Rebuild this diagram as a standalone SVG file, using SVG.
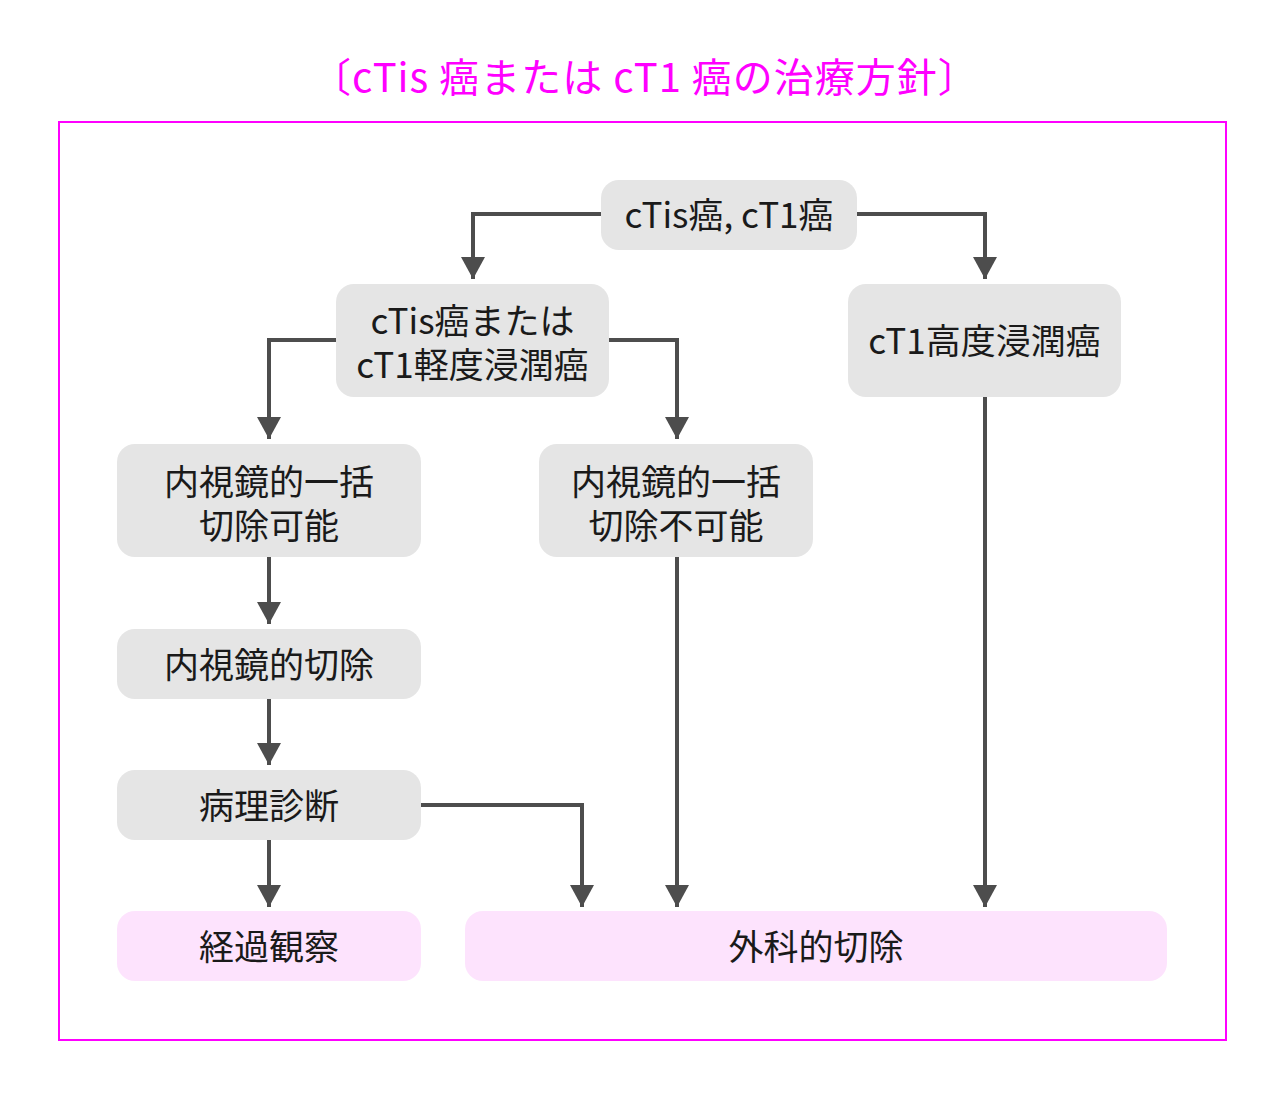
<svg xmlns="http://www.w3.org/2000/svg" width="1287" height="1098" viewBox="0 0 1287 1098">
<defs>
<style>
.n{fill:#e5e5e5}
.p{fill:#fde3fd}
.t{font-family:"Noto Sans CJK JP","Noto Sans",sans-serif;font-size:35px;fill:#1a1a1a;text-anchor:middle;dominant-baseline:central}
.c{fill:none;stroke:#4d4d4d;stroke-width:4}
.title{font-family:"Noto Sans CJK JP","Noto Sans",sans-serif;font-size:40px;letter-spacing:1px;fill:#ff00ff;text-anchor:middle;dominant-baseline:central}
</style>
<marker id="a" viewBox="0 0 22 24" refX="22" refY="12" markerWidth="22" markerHeight="24" markerUnits="userSpaceOnUse" orient="auto">
<path d="M0,0 L22,12 L0,24 Z" fill="#4d4d4d"/>
</marker>
</defs>
<rect width="1287" height="1098" fill="#fff"/>
<text class="title" x="645" y="75">〔cTis 癌または cT1 癌の治療方針〕</text>
<rect x="59" y="122" width="1167" height="918" fill="none" stroke="#ff00ff" stroke-width="2"/>
<g id="connectors">
<path class="c" d="M601,214 H473 V279" marker-end="url(#a)"/>
<path class="c" d="M857,214 H985 V279" marker-end="url(#a)"/>
<path class="c" d="M336,340 H269 V439" marker-end="url(#a)"/>
<path class="c" d="M609,340 H677 V439" marker-end="url(#a)"/>
<path class="c" d="M269,557 V624" marker-end="url(#a)"/>
<path class="c" d="M269,699 V765" marker-end="url(#a)"/>
<path class="c" d="M269,840 V907" marker-end="url(#a)"/>
<path class="c" d="M421,805 H582 V907" marker-end="url(#a)"/>
<path class="c" d="M677,557 V907" marker-end="url(#a)"/>
<path class="c" d="M985,397 V907" marker-end="url(#a)"/>
</g>
<g id="n1"><rect class="n" x="601" y="180" width="256" height="70" rx="18"/><text class="t" x="729" y="212">cTis癌, cT1癌</text></g>
<g id="n2"><rect class="n" x="336" y="284" width="273" height="113" rx="18"/><text class="t" x="472.500" y="318">cTis癌または</text><text class="t" x="472.500" y="362">cT1軽度浸潤癌</text></g>
<g id="n3"><rect class="n" x="848" y="284" width="273" height="113" rx="18"/><text class="t" x="984.500" y="338">cT1高度浸潤癌</text></g>
<g id="n4"><rect class="n" x="117" y="444" width="304" height="113" rx="18"/><text class="t" x="269" y="479">内視鏡的一括</text><text class="t" x="269" y="523">切除可能</text></g>
<g id="n5"><rect class="n" x="539" y="444" width="274" height="113" rx="18"/><text class="t" x="676" y="479">内視鏡的一括</text><text class="t" x="676" y="523">切除不可能</text></g>
<g id="n6"><rect class="n" x="117" y="629" width="304" height="70" rx="18"/><text class="t" x="269" y="662">内視鏡的切除</text></g>
<g id="n7"><rect class="n" x="117" y="770" width="304" height="70" rx="18"/><text class="t" x="269" y="803">病理診断</text></g>
<g id="n8"><rect class="p" x="117" y="911" width="304" height="70" rx="18"/><text class="t" x="269" y="944">経過観察</text></g>
<g id="n9"><rect class="p" x="465" y="911" width="702" height="70" rx="18"/><text class="t" x="816" y="944">外科的切除</text></g>
</svg>
